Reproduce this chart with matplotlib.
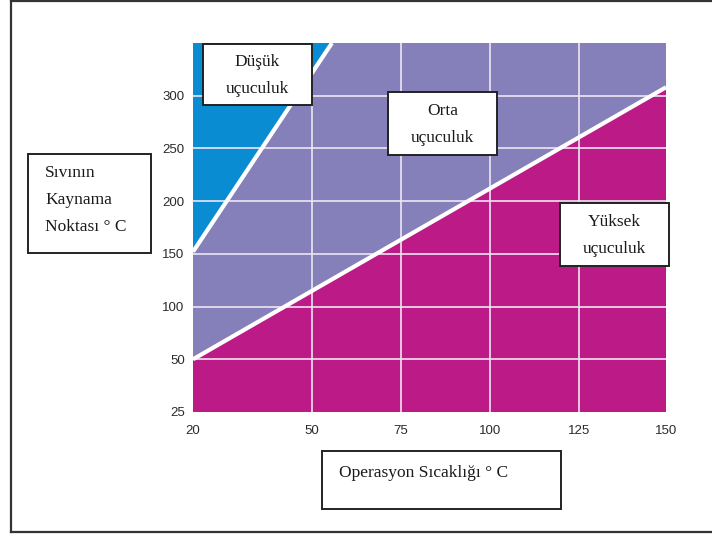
import numpy as np
import matplotlib
matplotlib.use("Agg")
import matplotlib.pyplot as plt
from matplotlib.patches import Rectangle, Polygon
from matplotlib.lines import Line2D

# axis ticks
x_ticks = [20, 50, 75, 100, 125, 150]
y_ticks = [25, 50, 100, 150, 200, 250, 300]
y_top = 350

# region boundaries (data units)
low_x = [20, 55.6]       # Düşük / Orta boundary
low_y = [152, 350]
high_x = [20, 150]       # Orta / Yüksek boundary
high_y = [50, 308]

labels = {
    "low": "Düşük\nuçuculuk",
    "mid": "Orta\nuçuculuk",
    "high": "Yüksek\nuçuculuk",
}
y_title = ["Sıvının", "Kaynama", "Noktası ° C"]
x_title = "Operasyon Sıcaklığı ° C"

c_blue = "#0A8CD2"
c_purple = "#8580BA"
c_magenta = "#BC1A86"

W, H = 712, 538
fig = plt.figure(figsize=(W / 100, H / 100), dpi=100)


def fx(x):
    return x / W


def fy(y):
    return 1 - y / H


# uneven tick spacing as printed in the original
x_pos = [0, 119, 208, 297, 386, 473]
y_vals = y_ticks + [y_top]
y_pos = list(range(len(y_vals)))


def xf(v):
    return np.interp(v, x_ticks, x_pos)


def xi(v):
    return np.interp(v, x_pos, x_ticks)


def yf(v):
    return np.interp(v, y_vals, y_pos)


def yi(v):
    return np.interp(v, y_pos, y_vals)


ax = fig.add_axes([fx(193), fy(412), fx(666) - fx(193), fy(43) - fy(412)])
ax.set_xscale("function", functions=(xf, xi))
ax.set_yscale("function", functions=(yf, yi))
ax.set_xlim(x_ticks[0], x_ticks[-1])
ax.set_ylim(y_ticks[0], y_top)
ax.set_facecolor(c_purple)

# magenta (high volatility) region
ax.add_patch(Polygon([(high_x[0], y_ticks[0]), (high_x[0], high_y[0]),
                      (high_x[1], high_y[1]), (high_x[1], y_ticks[0])],
                     closed=True, facecolor=c_magenta, edgecolor="none", zorder=1))
# blue (low volatility) region
ax.add_patch(Polygon([(low_x[0], low_y[0]), (low_x[1], low_y[1]), (low_x[0], y_top)],
                     closed=True, facecolor=c_blue, edgecolor="none", zorder=1))

# grid
for xv in x_ticks[1:-1]:
    ax.axvline(xv, color="#EEE6F2", linewidth=1.2, zorder=2)
for yv in y_ticks[1:]:
    ax.axhline(yv, color="#EEE6F2", linewidth=1.2, zorder=2)

# boundary lines
ax.plot(low_x, low_y, color="white", linewidth=3.0, zorder=3, solid_capstyle="butt")
ax.plot(high_x, high_y, color="white", linewidth=3.0, zorder=3, solid_capstyle="butt")

ax.set_xticks(x_ticks)
ax.set_yticks(y_ticks)
ax.set_xticklabels([str(v) for v in x_ticks])
ax.set_yticklabels([str(v) for v in y_ticks])
ax.tick_params(length=0, labelsize=9.5, labelcolor="#2a2a2a")
ax.tick_params(axis="x", pad=9)
ax.tick_params(axis="y", pad=6)
for lab in ax.get_xticklabels() + ax.get_yticklabels():
    lab.set_fontfamily("Liberation Sans")
for s in ax.spines.values():
    s.set_visible(False)

serif = "Liberation Serif"


def box(x0, y0, x1, y1):
    fig.add_artist(Rectangle((fx(x0), fy(y1)), fx(x1) - fx(x0), fy(y0) - fy(y1),
                             transform=fig.transFigure, facecolor="white",
                             edgecolor="#222222", linewidth=1.4, zorder=5))


# region labels
for key, (x0, y0, x1, y1) in {"low": (203, 44, 312, 105),
                              "mid": (388, 92, 497, 155),
                              "high": (560, 203, 669, 266)}.items():
    box(x0, y0, x1, y1)
    fig.text(fx((x0 + x1) / 2), fy((y0 + y1) / 2 + 1), labels[key], ha="center",
             va="center", fontsize=12.5, family=serif, color="#1a1a1a",
             linespacing=1.9, zorder=6)

# y axis title box
box(28, 154, 151, 253)
for i, line in enumerate(y_title):
    fig.text(fx(45), fy(173 + i * 27), line, ha="left", va="center",
             fontsize=12.5, family=serif, color="#1a1a1a", zorder=6)

# x axis title box
box(322, 451, 561, 509)
fig.text(fx(339), fy(473), x_title, ha="left", va="center", fontsize=12.5,
         family=serif, color="#1a1a1a", zorder=6)

# outer frame
for xs, ys in [((11, 11), (1, 532)), ((11, W), (1, 1)), ((11, W), (532, 532))]:
    fig.add_artist(Line2D([fx(v) for v in xs], [fy(v) for v in ys],
                          transform=fig.transFigure, color="#333333", linewidth=1.6))

fig.savefig("out.png", dpi=100)
